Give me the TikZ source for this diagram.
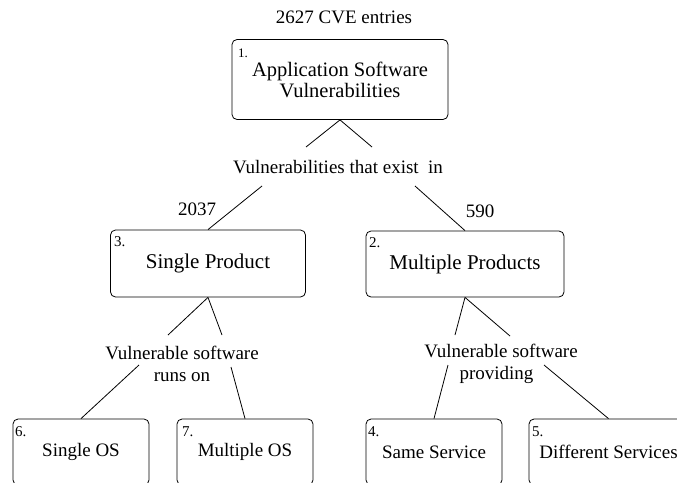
\documentclass[tikz,border=0pt]{standalone}
\usepackage{fontspec}
\setmainfont{Liberation Serif}
\begin{document}
\begin{tikzpicture}[x=1pt,y=-1pt,
  box/.style={draw, rounded corners=5pt, line width=0.8pt, inner sep=0pt, align=center},
  tag/.style={font=\fontsize{15}{15}\selectfont, anchor=north west, inner sep=0pt},
  lbl/.style={font=\fontsize{19}{22}\selectfont, align=center, inner sep=0pt},
  conn/.style={line width=0.8pt}]
\useasboundingbox (0,0) rectangle (677,482);
\clip (0,0) rectangle (677,482);

% root
\node[lbl] (total) at (344,17) {2627 CVE entries};
\node[box, minimum width=216pt, minimum height=80pt, font=\fontsize{20.5}{21}\selectfont] (b1) at (340,79.5) {Application Software\\Vulnerabilities};
\node[tag, font=\fontsize{13}{13}\selectfont] (t1) at (238,49) {1.};

% first split
\node[lbl] (exist) at (338,167) {Vulnerabilities that exist~~in};
\coordinate (e1) at (306,147);
\coordinate (e2) at (372,147);
\coordinate (e3) at (262,186);
\coordinate (e4) at (415,186);
\node[lbl] (n2037) at (197,209) {2037};
\node[lbl] (n590) at (480,211) {590};

\node[box, minimum width=195pt, minimum height=67pt, font=\fontsize{21}{21}\selectfont] (b3) at (208,263.5) {Single Product};
\node[tag] (t3) at (114,236) {3.};
\node[box, minimum width=198pt, minimum height=66pt, font=\fontsize{21}{21}\selectfont] (b2) at (465,264) {Multiple Products};
\node[tag] (t2) at (369,237) {2.};

\draw[conn] (b1.south) -- (e1);
\draw[conn] (b1.south) -- (e2);
\draw[conn] (e3) -- (b3.north);
\draw[conn] (e4) -- (b2.north);

% second split, single product
\node[lbl] (runs) at (182,363.5) {Vulnerable software\\runs on};
\coordinate (r1) at (168,335);
\coordinate (r2) at (222,335);
\coordinate (r3) at (139,365);
\coordinate (r4) at (231,367);
\node[box, minimum width=136pt, minimum height=66pt, font=\fontsize{19}{19}\selectfont] (b6) at (81,452) {Single OS};
\node[tag] (t6) at (15,426) {6.};
\node[box, minimum width=136pt, minimum height=66pt, font=\fontsize{19}{19}\selectfont] (b7) at (245,452) {Multiple OS};
\node[tag] (t7) at (182,426) {7.};
\draw[conn] (b3.south) -- (r1);
\draw[conn] (b3.south) -- (r2);
\draw[conn] (r3) -- (b6.north);
\draw[conn] (r4) -- (b7.north);

% second split, multiple products
\node[lbl] (prov) at (501,363.5) {Vulnerable software\\providing\hspace*{9pt}};
\coordinate (p1) at (455,335);
\coordinate (p2) at (510,336);
\coordinate (p3) at (448,365);
\coordinate (p4) at (544,365);
\node[box, minimum width=136pt, minimum height=66pt, font=\fontsize{19}{19}\selectfont] (b4) at (434,452) {Same Service};
\node[tag] (t4) at (368,426) {4.};
\node[box, minimum width=159pt, minimum height=66pt, font=\fontsize{19}{19}\selectfont] (b5) at (608.5,452) {Different Services};
\node[tag] (t5) at (532,426) {5.};
\draw[conn] (b2.south) -- (p1);
\draw[conn] (b2.south) -- (p2);
\draw[conn] (p3) -- (b4.north);
\draw[conn] (p4) -- (b5.north);
\end{tikzpicture}
\end{document}
